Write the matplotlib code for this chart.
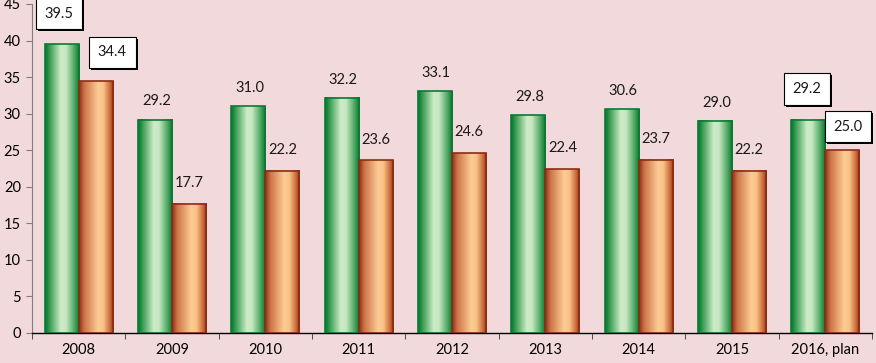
import numpy as np
import matplotlib
matplotlib.use("Agg")
import matplotlib.pyplot as plt
from matplotlib.colors import LinearSegmentedColormap
from matplotlib.patches import Rectangle
import matplotlib.patheffects as pe

categories = ["2008", "2009", "2010", "2011", "2012", "2013", "2014", "2015", "2016, plan"]
series_green = [39.5, 29.2, 31.0, 32.2, 33.1, 29.8, 30.6, 29.0, 29.2]
series_orange = [34.4, 17.7, 22.2, 23.6, 24.6, 22.4, 23.7, 22.2, 25.0]
boxed_categories = ["2008", "2016, plan"]

plt.rcParams['font.family'] = ['Lato', 'DejaVu Sans']
bg = "#F1D9DC"

fig = plt.figure(figsize=(8.76, 3.63), dpi=100, facecolor=bg)
ax = fig.add_axes([32/876, 30/363, 840/876, 329/363])
ax.set_facecolor(bg)

green_cmap = LinearSegmentedColormap.from_list("g", [
    (0.0, (0.0, 0.45, 0.18)), (0.12, (0.2, 0.6, 0.3)), (0.45, (0.80, 0.92, 0.78)),
    (0.6, (0.78, 0.91, 0.76)), (0.85, (0.3, 0.65, 0.38)), (1.0, (0.0, 0.45, 0.18))])
orange_cmap = LinearSegmentedColormap.from_list("o", [
    (0.0, (0.55, 0.18, 0.08)), (0.15, (0.8, 0.45, 0.28)), (0.55, (0.99, 0.80, 0.58)),
    (0.7, (0.98, 0.76, 0.53)), (0.9, (0.78, 0.40, 0.22)), (1.0, (0.55, 0.18, 0.08))])
grad = np.linspace(0, 1, 256).reshape(1, -1)

x = np.arange(len(categories))
w = 0.365

def gbar(xc, h, cmap, edge):
    x0, x1 = xc - w/2, xc + w/2
    ax.imshow(grad, cmap=cmap, extent=(x0, x1, 0, h), aspect='auto', zorder=2,
              interpolation='bilinear')
    ax.add_patch(Rectangle((x0, 0), w, h, fill=False, edgecolor=edge, lw=1.2, zorder=3))

for i in range(len(categories)):
    gbar(x[i] - w/2, series_green[i], green_cmap, "#0B7A35")
    gbar(x[i] + w/2, series_orange[i], orange_cmap, "#8A2E12")

ax.set_xlim(-0.5, len(categories) - 0.5)
ax.set_ylim(0, 45)

def label(xc, v, boxed, dx=0, dy=14):
    t = ax.annotate(f"{v:.1f}", (xc, v), xytext=(dx, dy), textcoords='offset points',
                    ha='center', va='center', fontsize=10.5, color='#1a1a1a', zorder=5)
    if boxed:
        t.set_bbox(dict(boxstyle='square,pad=0.6', facecolor='white', edgecolor='black', lw=0.8))
        t.get_bbox_patch().set_path_effects([pe.SimplePatchShadow(offset=(1.5, -1.5), shadow_rgbFace='black', alpha=1.0), pe.Normal()])

for i, c in enumerate(categories):
    if c in boxed_categories:
        if i == 0:
            label(x[i] - w/2, series_green[i], True, dx=-2, dy=22)
            label(x[i] + w/2, series_orange[i], True, dx=12, dy=21)
        else:
            label(x[i] - w/2, series_green[i], True, dx=-1, dy=22)
            label(x[i] + w/2, series_orange[i], True, dx=4, dy=17)
    else:
        label(x[i] - w/2, series_green[i], False, dx=1, dy=13)
        label(x[i] + w/2, series_orange[i], False, dx=0, dy=15)

ax.set_yticks(np.arange(0, 46, 5))
ax.set_xticks(x)
ax.set_xticklabels(categories)
ax.set_xticks(np.arange(-0.5, len(categories), 1), minor=True)
ax.tick_params(axis='x', which='major', length=0, labelsize=10.5, pad=7)
ax.tick_params(axis='x', which='minor', length=4, direction='out', color='#333333')
ax.tick_params(axis='y', length=4, direction='out', labelsize=10.5, color='#7f7f7f', pad=4)
for s in ['top', 'right']:
    ax.spines[s].set_visible(False)
ax.spines['left'].set_color('#7f7f7f')
ax.spines['bottom'].set_color('black')
ax.spines['bottom'].set_linewidth(1.0)

fig.savefig("out.png", dpi=100, facecolor=bg)
